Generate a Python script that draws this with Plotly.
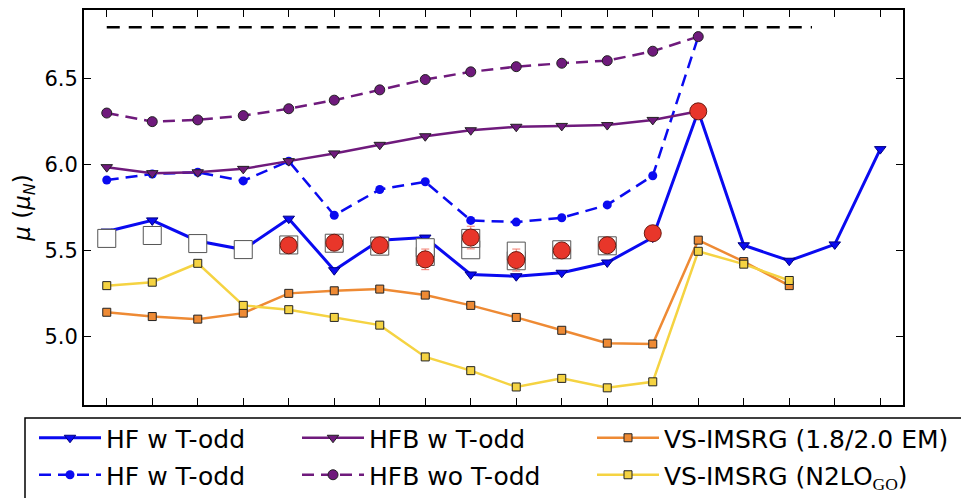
import plotly.graph_objects as go

# Nucleus index along the horizontal axis (no labels shown)
nucleus_idx = [0, 1, 2, 3, 4, 5, 6, 7, 8, 9, 10, 11, 12, 13, 14, 15, 16, 17]

# Magnetic moments (mu_N)
hf_todd = [5.61, 5.675, 5.555, 5.505, 5.685, 5.385, 5.56, 5.575, 5.36, 5.35,
           5.37, 5.43, 5.575, 6.31, 5.53, 5.44, 5.535, 6.09]
hf_todd_b = [5.91, 5.945, 5.955, 5.905, 6.02, 5.705, 5.855, 5.90, 5.675, 5.665,
             5.69, 5.765, 5.935, 6.745]
hfb_todd = [5.985, 5.95, 5.955, 5.975, 6.02, 6.065, 6.115, 6.165, 6.20, 6.22,
            6.225, 6.23, 6.26, 6.31]
hfb_no_todd = [6.30, 6.25, 6.26, 6.285, 6.325, 6.375, 6.435, 6.495, 6.54, 6.57,
               6.59, 6.605, 6.66, 6.745]
vs_em = [5.14, 5.115, 5.10, 5.135, 5.25, 5.265, 5.275, 5.24, 5.18, 5.11,
         5.035, 4.96, 4.955, 5.56, 5.435, 5.295]
vs_go = [5.295, 5.315, 5.425, 5.18, 5.155, 5.11, 5.065, 4.88, 4.80, 4.705,
         4.755, 4.70, 4.735, 5.495, 5.42, 5.325]

# Experimental values: open squares and filled circles with uncertainties
exp_sq = [5.57, 5.587, 5.54, 5.505, 5.532, 5.542, 5.525, 5.516, 5.57, 5.496,
          5.504, 5.527]
exp_sq_alt_idx = [7, 8, 9]
exp_sq_alt = [5.465, 5.504, 5.44]
exp_circ_idx = [4, 5, 6, 7, 8, 9, 10, 11, 12, 13]
exp_circ = [5.53, 5.545, 5.53, 5.448, 5.575, 5.444, 5.50, 5.53, 5.60, 6.31]
exp_circ_err = [0.0, 0.0, 0.0, 0.06, 0.066, 0.064, 0.0, 0.0, 0.0, 0.0]

# Horizontal reference level
ref_x = [0, 15.5]
ref_y = [6.8, 6.8]

BLUE = "#0a0af0"
PURPLE = "#6f1a7c"
ORANGE = "#ee8a34"
YELLOW = "#f5d342"
EDGE = dict(color="#222222", width=1)

fig = go.Figure()

fig.add_trace(go.Scatter(
    x=ref_x, y=ref_y, mode="lines", showlegend=False,
    line=dict(color="black", width=2.5, dash="13px,9px")))

fig.add_trace(go.Scatter(
    x=nucleus_idx[:len(hf_todd_b)], y=hf_todd_b, mode="lines+markers",
    name="HF w T-odd", legend="legend2",
    line=dict(color=BLUE, width=2.5, dash="12px,7px"),
    marker=dict(symbol="circle", size=9, color=BLUE, line=dict(color=BLUE, width=0))))

fig.add_trace(go.Scatter(
    x=nucleus_idx[:len(hfb_no_todd)], y=hfb_no_todd, mode="lines+markers",
    name="HFB wo T-odd", legend="legend4",
    line=dict(color=PURPLE, width=2.5, dash="12px,7px"),
    marker=dict(symbol="circle", size=10, color=PURPLE, line=EDGE)))

fig.add_trace(go.Scatter(
    x=nucleus_idx[:len(hfb_todd)], y=hfb_todd, mode="lines+markers",
    name="HFB w T-odd", legend="legend3",
    line=dict(color=PURPLE, width=2.5),
    marker=dict(symbol="triangle-down", size=10, color=PURPLE, line=EDGE)))

fig.add_trace(go.Scatter(
    x=nucleus_idx, y=hf_todd, mode="lines+markers",
    name="HF w T-odd", legend="legend",
    line=dict(color=BLUE, width=3),
    marker=dict(symbol="triangle-down", size=10, color=BLUE, line=dict(color="#000080", width=1))))

fig.add_trace(go.Scatter(
    x=nucleus_idx[:len(vs_em)], y=vs_em, mode="lines+markers",
    name="VS-IMSRG (1.8/2.0 EM)", legend="legend5",
    line=dict(color=ORANGE, width=2.5),
    marker=dict(symbol="square", size=8, color=ORANGE, line=EDGE)))

fig.add_trace(go.Scatter(
    x=nucleus_idx[:len(vs_go)], y=vs_go, mode="lines+markers",
    name="VS-IMSRG (N2LO<sub><span style='font-family:Liberation Serif'>GO</span></sub>)",
    legend="legend6",
    line=dict(color=YELLOW, width=2.5),
    marker=dict(symbol="square", size=8, color=YELLOW, line=EDGE)))

fig.add_trace(go.Scatter(
    x=exp_sq_alt_idx, y=exp_sq_alt, mode="markers", showlegend=False,
    marker=dict(symbol="square", size=18, color="white", line=dict(color="#555555", width=1))))

fig.add_trace(go.Scatter(
    x=nucleus_idx[:len(exp_sq)], y=exp_sq, mode="markers", showlegend=False,
    marker=dict(symbol="square", size=18, color="white", line=dict(color="#555555", width=1))))

fig.add_trace(go.Scatter(
    x=exp_circ_idx, y=exp_circ, mode="markers", showlegend=False,
    error_y=dict(type="data", array=exp_circ_err, color="#f27a6e", thickness=1, width=4),
    marker=dict(symbol="circle", size=17, color="#e8362a", line=dict(color="#6b1a10", width=1))))

L, R, T, B = 84, 58, 10, 93
W, H = 961, 498
pw, ph = W - L - R, H - T - B


def px_x(p):
    return (p - L) / pw


def px_y(p):
    return (H - B - p) / ph


legend_common = dict(
    orientation="v", yanchor="middle", xanchor="left",
    bgcolor="rgba(0,0,0,0)", borderwidth=0, itemwidth=62,
    font=dict(family="DejaVu Sans", size=25, color="black"),
)

# one legend per entry: three columns, two rows
col_px = [34, 297, 592]
row_px = [438, 475]

fig.update_layout(
    width=W, height=H,
    margin=dict(l=L, r=R, t=T, b=B, autoexpand=False),
    paper_bgcolor="white", plot_bgcolor="white",
    font=dict(family="DejaVu Sans", color="black"),
    xaxis=dict(
        range=[-0.5, 17.5], tickvals=nucleus_idx, showticklabels=False,
        ticks="inside", ticklen=7, tickwidth=1, tickcolor="black",
        showline=True, linecolor="black", linewidth=2, mirror="ticks",
        showgrid=False, zeroline=False),
    yaxis=dict(
        range=[4.6, 6.9], tickvals=[5.0, 5.5, 6.0, 6.5], tickformat=".1f",
        ticks="inside", ticklen=7, tickwidth=1, tickcolor="black",
        showline=True, linecolor="black", linewidth=2, mirror="ticks",
        showgrid=False, zeroline=False,
        tickfont=dict(family="DejaVu Sans", size=21),
        title=dict(text="<i>μ</i> (<i>μ</i><sub><i>N</i></sub>)",
                   font=dict(family="DejaVu Sans", size=23), standoff=7)),
    legend=dict(x=px_x(col_px[0]), y=px_y(row_px[0]), **legend_common),
    legend2=dict(x=px_x(col_px[0]), y=px_y(row_px[1]), **legend_common),
    legend3=dict(x=px_x(col_px[1]), y=px_y(row_px[0]), **legend_common),
    legend4=dict(x=px_x(col_px[1]), y=px_y(row_px[1]), **legend_common),
    legend5=dict(x=px_x(col_px[2]), y=px_y(row_px[0]), **legend_common),
    legend6=dict(x=px_x(col_px[2]), y=px_y(row_px[1]), **legend_common),
    shapes=[dict(type="rect", xref="paper", yref="paper",
                 x0=px_x(25), x1=px_x(975), y0=px_y(418), y1=px_y(520),
                 line=dict(color="black", width=1.5), fillcolor="rgba(0,0,0,0)")],
)

fig.write_html("out.html")
